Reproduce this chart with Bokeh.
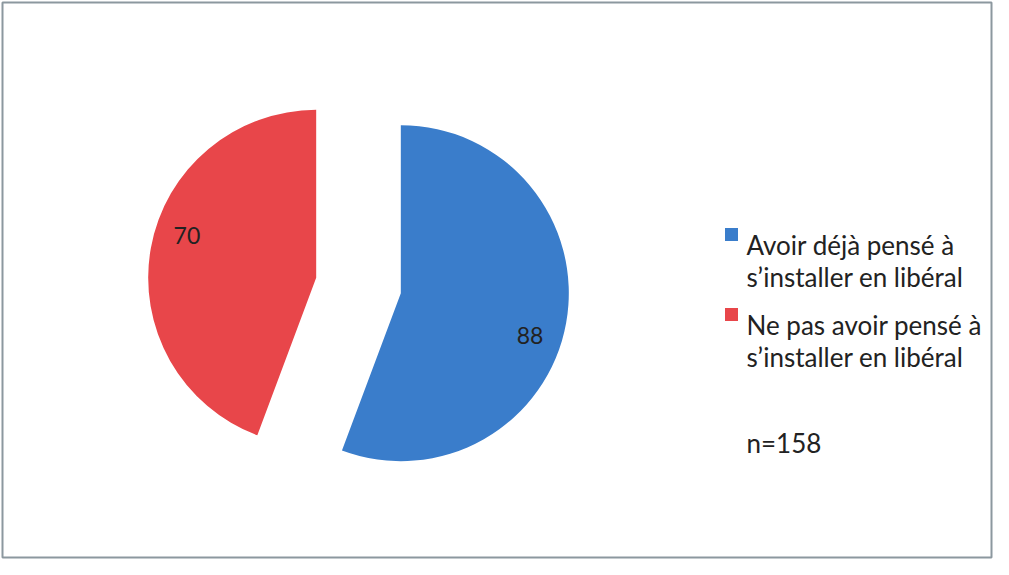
import numpy as np
from bokeh.plotting import figure
from bokeh.models import Range1d, ColumnDataSource
from bokeh.embed import file_html
from bokeh.resources import INLINE
from bokeh.core.properties import value

# ---- data ----
categories = ["Avoir déjà pensé à\ns’installer en libéral",
              "Ne pas avoir pensé à\ns’installer en libéral"]
values = [88, 70]
colors = ["#3A7DCB", "#E8464A"]
note = "n=158"

FONT = "Lato"
TXT = "#222222"

W, H, B = 993, 559, 2
p = figure(width=W, height=H, output_backend="svg", toolbar_location=None,
           min_border=B,
           x_range=Range1d(8 + B, 8 + W - B),
           y_range=Range1d(-(8 + H - B), -(8 + B)))
p.axis.visible = False
p.xgrid.visible = False
p.ygrid.visible = False
p.outline_line_color = "#8C989F"
p.outline_line_width = 2
p.background_fill_color = "white"
p.border_fill_color = "white"

# ---- pie geometry (page pixel coords, y negated) ----
cx, cy, r, explode = 366.0, -293.0, 168.0, 43.0
vals = np.array(values, dtype=float)
frac = vals / vals.sum()
cum = np.concatenate([[0.0], np.cumsum(frac)])
start = np.pi / 2 - 2 * np.pi * cum[:-1]
end = np.pi / 2 - 2 * np.pi * cum[1:]
mid = (start + end) / 2
xs = cx + explode * np.cos(mid)
ys = cy + explode * np.sin(mid)

src = ColumnDataSource(dict(x=xs, y=ys, start=start, end=end, color=colors))
p.wedge(x="x", y="y", radius=r, start_angle="start", end_angle="end",
        direction="clock", fill_color="color", line_color=None, source=src)

# data labels
lab_ang = mid - np.deg2rad(8)
lx = xs + 0.81 * r * np.cos(lab_ang)
ly = ys + 0.81 * r * np.sin(lab_ang)
p.text(x=lx, y=ly, text=[str(v) for v in values], text_align="center",
       text_baseline="middle", text_font=value(FONT), text_font_size="23px",
       text_color=TXT)

# ---- legend ----
lx0, ly0, step, lstep = 754, -252, 80, 32
sq_x, sq_y = [], []
tx, ty, tt = [], [], []
for i, cat in enumerate(categories):
    base = ly0 - i * step
    sq_x.append(lx0 - 15)
    sq_y.append(base + 10)
    for j, line in enumerate(cat.split("\n")):
        tx.append(lx0)
        ty.append(base - j * lstep)
        tt.append(line)
p.rect(x=sq_x, y=sq_y, width=13, height=13, fill_color=colors, line_color=None)
p.text(x=tx, y=ty, text=tt, text_align="left", text_baseline="alphabetic",
       text_font=value(FONT), text_font_size="26px", text_color=TXT)
p.text(x=[lx0], y=[-450], text=[note], text_align="left",
       text_baseline="alphabetic", text_font=value(FONT),
       text_font_size="26px", text_color=TXT)

open("out.html", "w").write(file_html(p, INLINE))
